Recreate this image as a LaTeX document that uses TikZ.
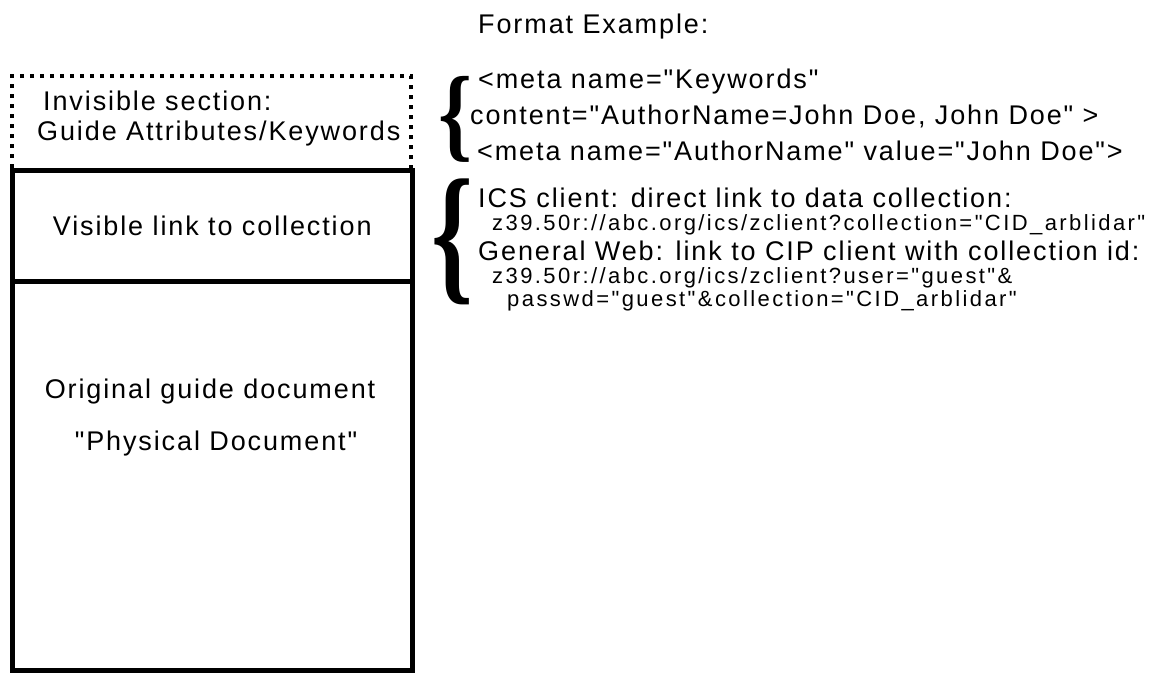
\documentclass[tikz,border=0pt]{standalone}
\usepackage{fontspec}
\setmainfont{Liberation Sans}
\newfontfamily\lblfont[LetterSpace=7]{Liberation Sans}
\newfontfamily\urlfont[LetterSpace=11]{Liberation Sans}
\newfontfamily\bracefont{Liberation Serif}
\usetikzlibrary{positioning}

\begin{document}
\begin{tikzpicture}[
    x=1pt, y=-1pt,
    sect/.style={rectangle, draw, line width=5pt, inner sep=0pt, minimum width=399.5pt},
    hidsect/.style={rectangle, draw, line width=4pt, dash pattern=on 4pt off 6pt, inner sep=0pt},
    lbl/.style={anchor=base west, inner sep=0pt, font=\lblfont\fontsize{27}{30}\selectfont},
    url/.style={anchor=base west, inner sep=0pt, font=\urlfont\fontsize{22}{24}\selectfont},
    brc/.style={inner sep=0pt, font=\bracefont\bfseries}
]
\useasboundingbox (0,0) rectangle (1156,673);

% document sections
\node[hidsect, minimum width=399pt, minimum height=94pt] (inv) at (211.5,123) {};
\node[sect, minimum height=111pt, font=\lblfont\fontsize{27}{30}\selectfont] (vis) at (212.25,226) {Visible link to collection};
\node[sect, minimum height=389pt] (orig) at (212.25,475.5) {};

\node[lbl] (inv1) at (43,110) {Invisible section:};
\node[lbl] (inv2) at (37,140) {Guide Attributes/Keywords};
\node[lbl, anchor=base] (orig1) at (210,398) {Original guide document};
\node[lbl, anchor=base] (orig2) at (216,450) {"Physical Document"};

% format example
\node[lbl] (fmt) at (478,33) {Format Example:};
\node[brc] (brA) at (456,119.5) {\resizebox*{34pt}{86pt}{\{}};
\node[lbl] (m1) at (478,88) {<meta name="Keywords"};
\node[lbl] (m2) at (470,124) {content="AuthorName=John Doe, John Doe" >};
\node[lbl] (m3) at (477,160) {<meta name="AuthorName" value="John Doe">};

\node[brc] (brB) at (453,242) {\resizebox*{42pt}{126pt}{\{}};
\node[lbl] (ics) at (478,207) {ICS client: direct link to data collection:};
\node[url] (u1) at (492,230) {z39.50r://abc.org/ics/zclient?collection="CID\_arblidar"};
\node[lbl] (gen) at (478,260) {General Web: link to CIP client with collection id:};
\node[url] (u2) at (492,283) {z39.50r://abc.org/ics/zclient?user="guest"\&};
\node[url] (u3) at (507,306) {passwd="guest"\&collection="CID\_arblidar"};
\end{tikzpicture}
\end{document}
